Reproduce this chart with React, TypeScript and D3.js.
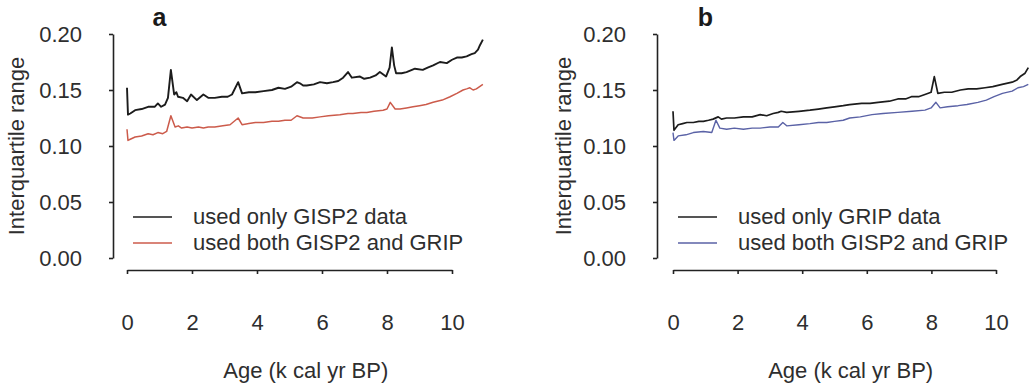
import React, { useEffect, useRef } from 'react';
import * as d3 from 'd3';

const ageTicks = [0, 2, 4, 6, 8, 10];
const iqrTicks = [0, 0.05, 0.1, 0.15, 0.2];

// Panel a
const gisp2Only: [number, number][] = [
  [0, 0.152], [0.03, 0.128], [0.1, 0.129], [0.25, 0.132], [0.45, 0.133], [0.65, 0.135], [0.85, 0.135], [0.95, 0.138],
  [1.05, 0.135], [1.17, 0.137], [1.26, 0.143], [1.35, 0.168], [1.45, 0.146], [1.52, 0.148], [1.57, 0.144], [1.72, 0.143],
  [1.85, 0.14], [1.97, 0.146], [2.15, 0.141], [2.35, 0.146], [2.5, 0.143], [2.7, 0.143], [2.92, 0.144], [3.1, 0.144],
  [3.23, 0.146], [3.42, 0.157], [3.54, 0.147], [3.75, 0.148], [3.95, 0.148], [4.2, 0.149], [4.46, 0.15], [4.66, 0.152],
  [4.86, 0.151], [5.05, 0.153], [5.23, 0.157], [5.32, 0.156], [5.42, 0.154], [5.53, 0.154], [5.75, 0.155], [5.94, 0.157],
  [6.15, 0.156], [6.34, 0.157], [6.5, 0.158], [6.65, 0.161], [6.8, 0.166], [6.92, 0.161], [7.17, 0.162], [7.3, 0.16],
  [7.48, 0.161], [7.65, 0.163], [7.78, 0.166], [7.97, 0.162], [8.08, 0.17], [8.15, 0.188], [8.22, 0.172], [8.28, 0.165],
  [8.45, 0.165], [8.6, 0.166], [8.86, 0.169], [9.1, 0.168], [9.25, 0.17], [9.42, 0.172], [9.63, 0.175], [9.84, 0.174],
  [10.0, 0.177], [10.15, 0.179], [10.3, 0.179], [10.45, 0.18], [10.6, 0.182], [10.7, 0.183], [10.8, 0.186], [10.86, 0.19],
  [10.95, 0.195],
];
const bothA: [number, number][] = [
  [0, 0.115], [0.03, 0.105], [0.1, 0.106], [0.25, 0.108], [0.45, 0.109], [0.65, 0.111], [0.8, 0.11], [0.95, 0.112],
  [1.1, 0.111], [1.22, 0.113], [1.35, 0.127], [1.48, 0.117], [1.58, 0.118], [1.68, 0.116], [1.85, 0.117], [2.0, 0.116],
  [2.2, 0.117], [2.35, 0.116], [2.5, 0.117], [2.7, 0.117], [2.95, 0.118], [3.17, 0.119], [3.42, 0.125], [3.54, 0.119],
  [3.75, 0.12], [3.95, 0.121], [4.2, 0.121], [4.46, 0.122], [4.66, 0.122], [4.86, 0.123], [5.05, 0.123], [5.23, 0.127],
  [5.42, 0.125], [5.7, 0.125], [5.94, 0.126], [6.2, 0.127], [6.55, 0.128], [6.8, 0.129], [6.95, 0.129], [7.2, 0.13],
  [7.38, 0.13], [7.6, 0.131], [7.88, 0.132], [8.0, 0.133], [8.1, 0.139], [8.25, 0.133], [8.4, 0.133], [8.6, 0.134],
  [8.8, 0.135], [9.0, 0.136], [9.2, 0.137], [9.42, 0.139], [9.7, 0.141], [9.94, 0.144], [10.15, 0.147], [10.34, 0.15],
  [10.45, 0.151], [10.55, 0.152], [10.65, 0.15], [10.75, 0.151], [10.85, 0.153], [10.95, 0.155],
];

// Panel b
const gripOnly: [number, number][] = [
  [0, 0.131], [0.03, 0.114], [0.16, 0.119], [0.3, 0.12], [0.43, 0.121], [0.63, 0.121], [0.8, 0.122], [0.94, 0.122],
  [1.1, 0.123], [1.24, 0.124], [1.4, 0.126], [1.5, 0.124], [1.66, 0.125], [1.9, 0.125], [2.18, 0.126], [2.45, 0.126],
  [2.7, 0.128], [2.9, 0.127], [3.1, 0.129], [3.26, 0.13], [3.35, 0.131], [3.52, 0.13], [3.9, 0.131], [4.24, 0.132],
  [4.5, 0.133], [4.76, 0.134], [5.0, 0.135], [5.27, 0.136], [5.47, 0.137], [5.84, 0.138], [6.1, 0.138], [6.35, 0.139],
  [6.7, 0.14], [6.96, 0.142], [7.2, 0.142], [7.38, 0.144], [7.6, 0.144], [7.8, 0.146], [7.99, 0.148], [8.09, 0.162],
  [8.2, 0.147], [8.4, 0.148], [8.63, 0.148], [8.9, 0.15], [9.14, 0.151], [9.4, 0.151], [9.66, 0.152], [9.9, 0.153],
  [10.19, 0.155], [10.5, 0.157], [10.65, 0.159], [10.75, 0.162], [10.9, 0.165], [11.0, 0.17],
];
const bothB: [number, number][] = [
  [0, 0.112], [0.03, 0.105], [0.16, 0.109], [0.4, 0.11], [0.63, 0.112], [0.94, 0.113], [1.2, 0.112], [1.33, 0.123],
  [1.45, 0.116], [1.66, 0.115], [1.9, 0.116], [2.18, 0.115], [2.45, 0.116], [2.7, 0.116], [3.0, 0.117], [3.26, 0.117],
  [3.4, 0.121], [3.52, 0.118], [3.9, 0.119], [4.24, 0.12], [4.5, 0.121], [4.76, 0.121], [5.0, 0.122], [5.27, 0.123],
  [5.47, 0.125], [5.8, 0.126], [6.16, 0.128], [6.5, 0.129], [6.96, 0.13], [7.4, 0.131], [7.8, 0.132], [7.99, 0.134],
  [8.14, 0.139], [8.27, 0.134], [8.5, 0.135], [8.83, 0.136], [9.1, 0.137], [9.44, 0.139], [9.7, 0.141], [9.94, 0.144],
  [10.2, 0.147], [10.5, 0.149], [10.68, 0.152], [10.85, 0.153], [11.0, 0.155],
];

const FONT = '"Liberation Sans", Arial, Helvetica, sans-serif';
const TEXT = '#2e2e2e';
const AXIS = '#222';

type PanelCfg = {
  letter: string;
  left: number;
  right: number;
  yAxisX: number;
  yTitleX: number;
  legendX: number;
  series: { name: string; data: [number, number][]; color: string; width: number }[];
};

const panels: PanelCfg[] = [
  {
    letter: 'a', left: 127, right: 452, yAxisX: 113, yTitleX: 24, legendX: 133,
    series: [
      { name: 'used only GISP2 data', data: gisp2Only, color: '#1c1c1c', width: 1.9 },
      { name: 'used both GISP2 and GRIP', data: bothA, color: '#cc5b4b', width: 1.5 },
    ],
  },
  {
    letter: 'b', left: 673, right: 996, yAxisX: 657, yTitleX: 571, legendX: 678,
    series: [
      { name: 'used only GRIP data', data: gripOnly, color: '#1c1c1c', width: 1.7 },
      { name: 'used both GISP2 and GRIP', data: bothB, color: '#5a62a6', width: 1.4 },
    ],
  },
];

function Panel({ cfg }: { cfg: PanelCfg }) {
  const xRef = useRef<SVGGElement>(null);
  const yRef = useRef<SVGGElement>(null);
  const x = d3.scaleLinear().domain([0, 10]).range([cfg.left, cfg.right]);
  const y = d3.scaleLinear().domain([0, 0.2]).range([258, 34]);
  const line = d3.line<[number, number]>().x((d) => x(d[0])).y((d) => y(d[1]));

  useEffect(() => {
    const gx = d3.select(xRef.current!);
    gx.call(
      d3.axisBottom(x).tickValues(ageTicks).tickSize(4).tickSizeOuter(0).tickPadding(40).tickFormat(d3.format('d'))
    );
    const gy = d3.select(yRef.current!);
    gy.call(
      d3.axisLeft(y).tickValues(iqrTicks).tickSize(4).tickSizeOuter(0).tickPadding(27).tickFormat(d3.format('.2f'))
    );
    [gx, gy].forEach((g) => {
      g.attr('font-size', 22).attr('font-family', FONT);
      g.selectAll('path').attr('stroke', AXIS).attr('stroke-width', 1.6);
      g.selectAll('line').attr('stroke', AXIS).attr('stroke-width', 1.6);
      g.selectAll('text').attr('fill', TEXT);
    });
  });

  return (
    <g>
      <g ref={xRef} transform="translate(0,270)" />
      <g ref={yRef} transform={`translate(${cfg.yAxisX},0)`} />
      {cfg.series.map((s) => (
        <path key={s.name} d={line(s.data) || ''} fill="none" stroke={s.color} strokeWidth={s.width} strokeLinejoin="round" />
      ))}
      <text x={x(1)} y={26} fontSize={25} fontWeight="bold" fontFamily={FONT} fill="#1a1a1a" textAnchor="middle">
        {cfg.letter}
      </text>
      <text x={x(5.5)} y={378} fontSize={22} fontFamily={FONT} fill={TEXT} textAnchor="middle">
        Age (k cal yr BP)
      </text>
      <text
        transform={`translate(${cfg.yTitleX},${y(0.1)}) rotate(-90)`}
        fontSize={22}
        fontFamily={FONT}
        fill={TEXT}
        textAnchor="middle"
      >
        Interquartile range
      </text>
      {cfg.series.map((s, i) => (
        <g key={'lg' + i}>
          <line x1={cfg.legendX} x2={cfg.legendX + 39} y1={217 + i * 26} y2={217 + i * 26} stroke={s.color} strokeWidth={1.6} />
          <text x={cfg.legendX + 60} y={224 + i * 26} fontSize={22} fontFamily={FONT} fill={TEXT}>
            {s.name}
          </text>
        </g>
      ))}
    </g>
  );
}

export default function App() {
  return (
    <svg width={1031} height={391} style={{ position: 'absolute', left: 0, top: 0, background: '#fff' }}>
      {panels.map((p) => (
        <Panel key={p.letter} cfg={p} />
      ))}
    </svg>
  );
}
